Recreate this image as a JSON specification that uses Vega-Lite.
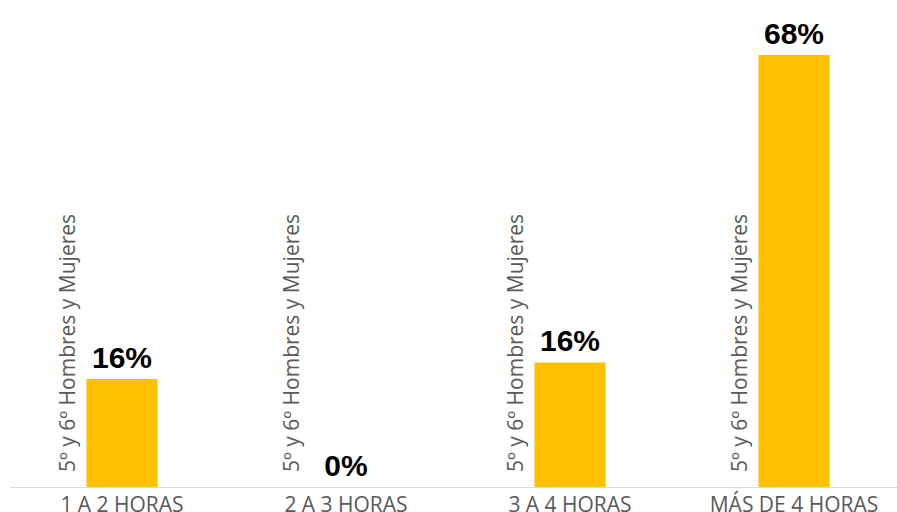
{
  "$schema": "https://vega.github.io/schema/vega-lite/v6.json",
  "autosize": {"type": "none"},
  "width": 896,
  "height": 487,
  "padding": {"left": 10, "top": 0, "right": 0, "bottom": 25},
  "background": "white",
  "config": {"view": {"stroke": null}},
  "data": {
    "values": [
      {"cat": "1 A 2 HORAS", "value": 17.0, "label": "16%", "series": "5º y 6º Hombres y Mujeres"},
      {"cat": "2 A 3 HORAS", "value": 0, "label": "0%", "series": "5º y 6º Hombres y Mujeres"},
      {"cat": "3 A 4 HORAS", "value": 19.6, "label": "16%", "series": "5º y 6º Hombres y Mujeres"},
      {"cat": "MÁS DE 4 HORAS", "value": 68, "label": "68%", "series": "5º y 6º Hombres y Mujeres"}
    ]
  },
  "encoding": {
    "x": {
      "field": "cat",
      "type": "nominal",
      "sort": null,
      "scale": {"paddingInner": 0, "paddingOuter": 0},
      "axis": {
        "title": null,
        "labelAngle": 0,
        "ticks": false,
        "domainColor": "#d9d9d9",
        "domainWidth": 1,
        "labelFont": "Open Sans",
        "labelFontSize": 21,
        "labelColor": "#595959",
        "labelPadding": 7,
        "grid": false
      }
    }
  },
  "layer": [
    {
      "mark": {"type": "bar", "color": "#FFC000", "width": {"band": 0.317}},
      "encoding": {
        "y": {"field": "value", "type": "quantitative", "scale": {"domain": [0, 76.66], "nice": false}, "axis": null}
      }
    },
    {
      "mark": {"type": "text", "font": "Liberation Sans", "fontWeight": "bold", "fontSize": 30, "color": "#000000", "baseline": "bottom", "align": "center", "dy": -5},
      "encoding": {
        "y": {"field": "value", "type": "quantitative"},
        "text": {"field": "label"}
      }
    },
    {
      "mark": {"type": "text", "font": "Open Sans", "fontSize": 21, "color": "#595959", "angle": 270, "align": "left", "baseline": "middle", "xOffset": -53, "yOffset": -15},
      "encoding": {
        "y": {"datum": 0},
        "text": {"field": "series"}
      }
    }
  ]
}
